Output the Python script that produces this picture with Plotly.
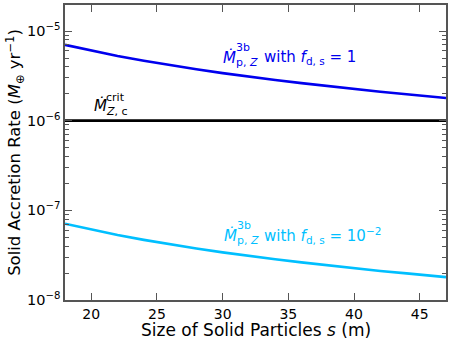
import plotly.graph_objects as go

# particle size s (m)
sizes = [18, 20, 22, 24, 26, 28, 30, 32, 34, 36, 38, 40, 42, 44, 46, 47]
# accretion rate with f_d,s = 1
rate_fd1 = [7.0e-6, 6.03e-6, 5.26e-6, 4.65e-6, 4.15e-6, 3.74e-6, 3.39e-6, 3.09e-6,
            2.84e-6, 2.62e-6, 2.42e-6, 2.25e-6, 2.10e-6, 1.97e-6, 1.85e-6, 1.79e-6]
# accretion rate with f_d,s = 1e-2
rate_fd001 = [7.1e-8, 6.08e-8, 5.30e-8, 4.68e-8, 4.17e-8, 3.76e-8, 3.40e-8, 3.10e-8,
              2.85e-8, 2.63e-8, 2.43e-8, 2.26e-8, 2.11e-8, 1.98e-8, 1.86e-8, 1.80e-8]
crit_rate = 1e-6

x_ticks = [20, 25, 30, 35, 40, 45]
y_ticks = [1e-8, 1e-7, 1e-6, 1e-5]
y_ticktext = ["10<sup>\u22128</sup>", "10<sup>\u22127</sup>", "10<sup>\u22126</sup>", "10<sup>\u22125</sup>"]

FONT = "DejaVu Sans"
BLUE = "#0000ee"
CYAN = "#00bfff"

fig = go.Figure()
fig.add_trace(go.Scatter(x=sizes, y=rate_fd1, mode="lines",
                         line=dict(color=BLUE, width=2.6)))
fig.add_trace(go.Scatter(x=sizes, y=rate_fd001, mode="lines",
                         line=dict(color=CYAN, width=2.6)))
fig.add_trace(go.Scatter(x=[18, 47], y=[crit_rate, crit_rate], mode="lines",
                         line=dict(color="black", width=2.6)))

minor_vals = [m * 10 ** e for e in range(-8, -4) for m in range(2, 10)]

axis_common = dict(showline=True, linecolor="#555", linewidth=1.5, mirror="ticks",
                   ticks="inside", tickcolor="#555", ticklen=7, tickwidth=1,
                   showgrid=False, zeroline=False, automargin=False,
                   tickfont=dict(family=FONT, size=14, color="black"))

fig.update_xaxes(range=[18, 47], tickvals=x_ticks, **axis_common)
fig.update_yaxes(type="log", range=[-8, -4.71], tickvals=y_ticks, ticktext=y_ticktext,
                 minor=dict(tickvals=minor_vals, ticks="inside", ticklen=4,
                            tickcolor="#555", showgrid=False),
                 title=dict(text="Solid Accretion Rate (<i>M</i><sub>\u2295</sub> yr<sup>\u22121</sup>)",
                            font=dict(family=FONT, size=16.5, color="black"), standoff=0),
                 **axis_common)
fig.update_yaxes(tickfont=dict(size=14.5))

# x axis title as a paper annotation so it sits just under the tick labels
fig.add_annotation(x=0.5, y=-0.1, xref="paper", yref="paper", xanchor="center",
                   yanchor="middle", showarrow=False, borderpad=0,
                   text="Size of Solid Particles <i>s</i> (m)",
                   font=dict(family=FONT, size=17, color="black"))


def label(x, y, text, size, color):
    fig.add_annotation(x=x, y=y, xref="x", yref="y", xanchor="left", yanchor="middle",
                       text=text, showarrow=False,
                       font=dict(family=FONT, size=size, color=color))


# critical rate label
label(20.06, -5.83, "<i>\u1E40</i>", 15, "black")
label(21.0, -5.74, "crit", 11, "black")
label(21.0, -5.90, "<i>Z</i>, c", 11, "black")

# f_d,s = 1 label
label(29.9, -5.29, "<i>\u1E40</i>", 15, BLUE)
label(30.9, -5.18, "3b", 11, BLUE)
label(30.9, -5.35, "p, <i>Z</i>", 11, BLUE)
label(33.0, -5.29, "with <i>f</i><sub>d, s</sub> = 1", 15, BLUE)

# f_d,s = 1e-2 label
label(29.95, -7.28, "<i>\u1E40</i>", 15, CYAN)
label(30.95, -7.17, "3b", 11, CYAN)
label(30.95, -7.34, "p, <i>Z</i>", 11, CYAN)
label(33.0, -7.28, "with <i>f</i><sub>d, s</sub> = 10<sup>\u22122</sup>", 15, CYAN)

fig.update_layout(width=452, height=339, showlegend=False,
                  margin=dict(l=65, r=6, t=5, b=39),
                  paper_bgcolor="white", plot_bgcolor="white",
                  font=dict(family=FONT))

fig.write_html("out.html", config={"displayModeBar": False},
               post_script="document.body.style.margin='0';")
